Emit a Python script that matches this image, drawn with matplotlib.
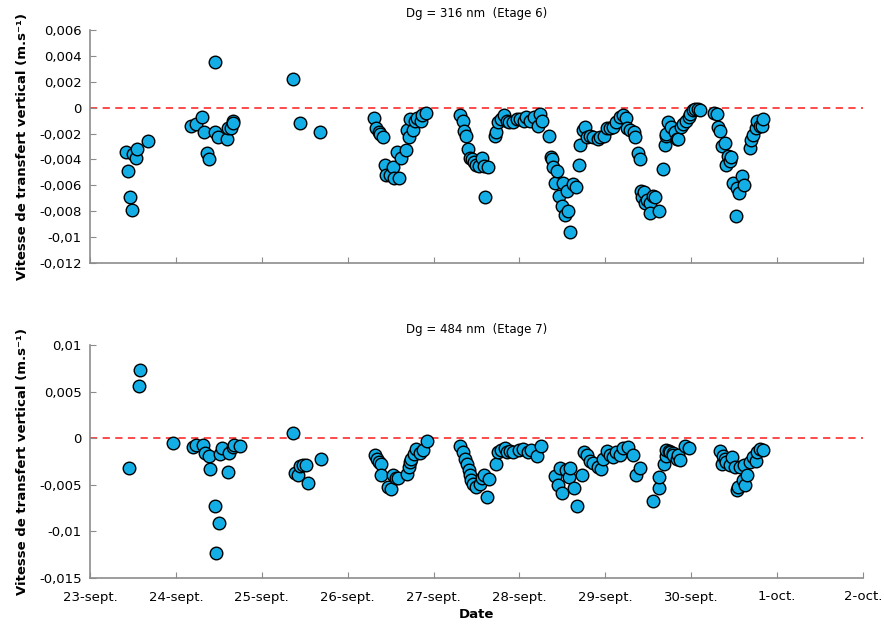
import numpy as np
import matplotlib
matplotlib.use('Agg')
import matplotlib.pyplot as plt
from matplotlib.ticker import FuncFormatter

# Jours depuis le 23-sept. 00h
jours_316 = [0.42, 0.44, 0.47, 0.49, 0.50, 0.53, 0.55, 0.68,
             1.18, 1.23, 1.30, 1.33, 1.36, 1.39, 1.45, 1.46, 1.49, 1.60, 1.61, 1.64, 1.66, 1.67,
             2.36, 2.44, 2.68,
             3.31, 3.33, 3.37, 3.38, 3.41, 3.43, 3.45, 3.49, 3.53, 3.54, 3.57, 3.60, 3.62, 3.68,
             3.69, 3.72, 3.73, 3.76, 3.78, 3.81, 3.85, 3.87, 3.91,
             4.31, 4.34, 4.36, 4.38, 4.40, 4.42, 4.45, 4.47, 4.50, 4.53, 4.57, 4.59, 4.60, 4.63,
             4.71, 4.73, 4.75, 4.79, 4.82, 4.85, 4.88, 4.93, 4.97, 5.01, 5.05, 5.08, 5.12, 5.17,
             5.22, 5.24, 5.26,
             5.34, 5.37, 5.38, 5.39, 5.42, 5.44, 5.46, 5.49, 5.51, 5.53, 5.55, 5.57, 5.59, 5.62,
             5.66, 5.69, 5.71, 5.74, 5.76, 5.79, 5.82, 5.86, 5.91, 5.94, 5.98, 6.02, 6.05, 6.09,
             6.13, 6.17, 6.21, 6.24,
             6.25, 6.29, 6.33, 6.35, 6.38, 6.40, 6.41, 6.43, 6.45, 6.46, 6.48, 6.52, 6.52, 6.56,
             6.58, 6.62, 6.67, 6.69, 6.71, 6.71, 6.73, 6.77, 6.81, 6.83, 6.85, 6.88, 6.91, 6.94,
             6.97, 6.99, 7.02, 7.04, 7.08, 7.10,
             7.27, 7.30, 7.31, 7.34, 7.36, 7.39, 7.41, 7.43, 7.45, 7.46, 7.49, 7.52, 7.53, 7.56,
             7.59, 7.61, 7.68, 7.70, 7.72, 7.75, 7.77, 7.80, 7.83, 7.84]
v_316 = [-0.0034, -0.0049, -0.0069, -0.0079, -0.0036, -0.0039, -0.0032, -0.0026,
         -0.0014, -0.0013, -0.0007, -0.0019, -0.0035, -0.0040, 0.0035, -0.0019, -0.0023, -0.0024, -0.0016, -0.0016, -0.0010, -0.0012,
         0.0022, -0.0012, -0.0019,
         -0.0008, -0.0016, -0.0019, -0.0020, -0.0023, -0.0044, -0.0052, -0.0052, -0.0046, -0.0054, -0.0034, -0.0054, -0.0039, -0.0033,
         -0.0017, -0.0023, -0.0009, -0.0017, -0.0010, -0.0008, -0.0010, -0.0006, -0.0004,
         -0.0006, -0.0010, -0.0018, -0.0022, -0.0032, -0.0039, -0.0040, -0.0042, -0.0044, -0.0045, -0.0039, -0.0045, -0.0069, -0.0046,
         -0.0022, -0.0019, -0.0011, -0.0009, -0.0006, -0.0010, -0.0011, -0.0011, -0.0009, -0.0009, -0.0010, -0.0007, -0.0010, -0.0007,
         -0.0014, -0.0005, -0.0010,
         -0.0022, -0.0038, -0.0040, -0.0046, -0.0058, -0.0049, -0.0068, -0.0076, -0.0058, -0.0083, -0.0064, -0.0080, -0.0096, -0.0059,
         -0.0061, -0.0044, -0.0029, -0.0017, -0.0015, -0.0023, -0.0022, -0.0023, -0.0024, -0.0023, -0.0022, -0.0016, -0.0016, -0.0015,
         -0.0011, -0.0007, -0.0006, -0.0008,
         -0.0016, -0.0017, -0.0019, -0.0023, -0.0035, -0.0040, -0.0064, -0.0069, -0.0065, -0.0074, -0.0071, -0.0074, -0.0081, -0.0068,
         -0.0069, -0.0080, -0.0047, -0.0029, -0.0022, -0.0020, -0.0011, -0.0015, -0.0019, -0.0024, -0.0024, -0.0015, -0.0013, -0.0010,
         -0.0007, -0.0005, -0.0002, -0.0001, -0.0001, -0.0002,
         -0.0004, -0.0005, -0.0015, -0.0018, -0.0030, -0.0027, -0.0044, -0.0037, -0.0041, -0.0038, -0.0058, -0.0084, -0.0062, -0.0066,
         -0.0053, -0.0060, -0.0031, -0.0025, -0.0021, -0.0016, -0.0010, -0.0014, -0.0014, -0.0009]

jours_484 = [0.46, 0.57, 0.58, 0.97,
             1.20, 1.23, 1.31, 1.34, 1.38, 1.40, 1.46, 1.47, 1.50, 1.51, 1.54, 1.61, 1.62, 1.66, 1.68, 1.75,
             2.36, 2.39, 2.42, 2.45, 2.48, 2.52, 2.54, 2.69,
             3.32, 3.34, 3.36, 3.39, 3.39, 3.47, 3.50, 3.53, 3.56, 3.59, 3.69, 3.71, 3.73, 3.74,
             3.77, 3.80, 3.84, 3.88, 3.92,
             4.31, 4.34, 4.37, 4.39, 4.41, 4.43, 4.44, 4.46, 4.50, 4.54, 4.56, 4.59, 4.62, 4.65,
             4.73, 4.75, 4.79, 4.83, 4.85, 4.89, 4.93, 4.99, 5.04, 5.10, 5.14, 5.21, 5.25,
             5.41, 5.45, 5.47, 5.50, 5.54, 5.58, 5.59, 5.63, 5.67, 5.73, 5.75, 5.79, 5.82, 5.86,
             5.91, 5.95, 5.97, 6.02, 6.05, 6.09, 6.13, 6.17, 6.21, 6.26, 6.32, 6.36, 6.40,
             6.56, 6.62, 6.63, 6.68, 6.71, 6.71, 6.74, 6.75, 6.79, 6.79, 6.83, 6.85, 6.87, 6.93, 6.97,
             7.33, 7.36, 7.37, 7.39, 7.41, 7.45, 7.48, 7.51, 7.53, 7.55, 7.57, 7.60, 7.62, 7.63,
             7.65, 7.68, 7.72, 7.75, 7.77, 7.80, 7.84]
v_484 = [-0.0032, 0.0056, 0.0073, -0.0005,
         -0.0009, -0.0007, -0.0007, -0.0016, -0.0019, -0.0033, -0.0073, -0.0123, -0.0091, -0.0017, -0.0010, -0.0036, -0.0016, -0.0009, -0.0007, -0.0008,
         0.0006, -0.0037, -0.0040, -0.0030, -0.0029, -0.0029, -0.0048, -0.0022,
         -0.0018, -0.0022, -0.0026, -0.0028, -0.0040, -0.0052, -0.0055, -0.0040, -0.0043, -0.0043, -0.0038, -0.0031, -0.0025, -0.0022,
         -0.0017, -0.0012, -0.0016, -0.0013, -0.0003,
         -0.0008, -0.0015, -0.0022, -0.0028, -0.0034, -0.0040, -0.0045, -0.0049, -0.0052, -0.0049, -0.0043, -0.0039, -0.0063, -0.0044,
         -0.0028, -0.0015, -0.0013, -0.0010, -0.0015, -0.0014, -0.0015, -0.0013, -0.0012, -0.0015, -0.0013, -0.0019, -0.0008,
         -0.0041, -0.0050, -0.0032, -0.0059, -0.0034, -0.0042, -0.0032, -0.0053, -0.0073, -0.0039, -0.0015, -0.0018, -0.0024, -0.0027,
         -0.0031, -0.0033, -0.0022, -0.0014, -0.0018, -0.0020, -0.0015, -0.0018, -0.0011, -0.0009, -0.0018, -0.0040, -0.0032,
         -0.0067, -0.0053, -0.0042, -0.0028, -0.0019, -0.0013, -0.0014, -0.0015, -0.0016, -0.0018, -0.0022, -0.0018, -0.0023, -0.0008, -0.0011,
         -0.0014, -0.0028, -0.0019, -0.0022, -0.0025, -0.0029, -0.0020, -0.0031, -0.0056, -0.0052, -0.0031, -0.0045, -0.0029, -0.0050,
         -0.0039, -0.0025, -0.0020, -0.0024, -0.0015, -0.0012, -0.0013]

dates_labels = ['23-sept.', '24-sept.', '25-sept.', '26-sept.', '27-sept.',
                '28-sept.', '29-sept.', '30-sept.', '1-oct.', '2-oct.']

titres = ['Dg = 316 nm  (Etage 6)', 'Dg = 484 nm  (Etage 7)']
ylims = [(-0.012, 0.006), (-0.015, 0.01)]
ysteps = [0.002, 0.005]

plt.rcParams['font.family'] = ['DejaVu Sans']
fig = plt.figure(figsize=(8.84, 6.25), dpi=100)
ax1 = fig.add_axes([0.1018, 0.5792, 0.8744, 0.3728])
ax2 = fig.add_axes([0.1018, 0.0752, 0.8744, 0.3728])

def virgule(v, pos):
    return ('%g' % round(v, 6)).replace('.', ',')

for i, (ax, x, y) in enumerate([(ax1, jours_316, v_316), (ax2, jours_484, v_484)]):
    ax.axhline(0, color='#ff3b3b', lw=1.3, ls=(0, (4, 3)), zorder=1)
    ax.scatter(x, y, s=82, c='#13aee6', edgecolors='black', linewidths=1.0, zorder=3)
    ax.set_xlim(0, 9)
    ax.set_ylim(*ylims[i])
    ax.set_yticks(np.arange(ylims[i][0], ylims[i][1] + 1e-9, ysteps[i]))
    ax.yaxis.set_major_formatter(FuncFormatter(virgule))
    ax.set_xticks(range(len(dates_labels)))
    for s in ['top', 'right']:
        ax.spines[s].set_visible(False)
    for s in ['left', 'bottom']:
        ax.spines[s].set_color('#8c8c8c')
        ax.spines[s].set_linewidth(1.2)
    ax.tick_params(direction='in', length=4, color='#8c8c8c', labelsize=9.5, pad=6)
    ax.tick_params(axis='x', pad=9)
    ax.set_title(titres[i], fontsize=8.5, pad=9)
    ax.set_ylabel('Vitesse de transfert vertical (m.s⁻¹)', fontsize=9.5,
                  fontweight='bold', labelpad=7)

ax1.set_xticklabels([])
ax2.set_xticklabels(dates_labels)
ax2.set_xlabel('Date', fontsize=9.5, fontweight='bold', labelpad=3)

fig.savefig('out.png', dpi=100)
